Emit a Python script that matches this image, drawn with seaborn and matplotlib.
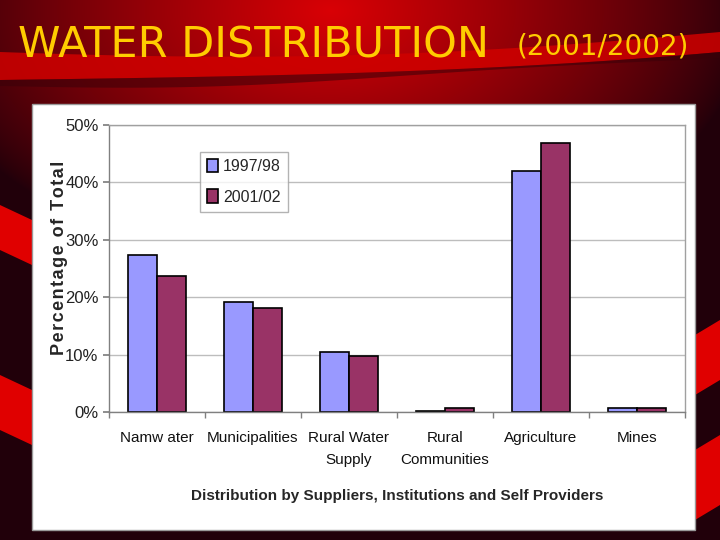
#!/usr/bin/env python3
"""Water distribution slide: share of total by supplier, 1997/98 vs 2001/02."""

import matplotlib

matplotlib.use("Agg")
import matplotlib.pyplot as plt
import numpy as np
import pandas as pd
import seaborn as sns
from matplotlib.patches import Rectangle
from matplotlib.ticker import FixedLocator, PercentFormatter

CATEGORIES = ["Namw ater", "Municipalities", "Rural Water\nSupply", "Rural\nCommunities", "Agriculture", "Mines"]
SHARE_1997 = [27.3, 19.2, 10.5, 0.2, 41.9, 0.7]
SHARE_2001 = [23.7, 18.1, 9.7, 0.7, 46.9, 0.7]
SERIES = ["1997/98", "2001/02"]
Y_TICKS = [0, 10, 20, 30, 40, 50]

PALETTE = {"1997/98": "#9999FF", "2001/02": "#993366"}
CHART_FONT = ["Liberation Sans", "DejaVu Sans"]


def draw_background(fig):
    bg = fig.add_axes([0, 0, 1, 1], zorder=-10)
    h, w = 540, 720
    yy, xx = np.mgrid[0:h, 0:w]
    dist = np.sqrt(((xx - 330) / 420.0) ** 2 + ((yy - 10) / 260.0) ** 2)
    t = np.clip(1.0 - dist, 0, 1) ** 0.8
    dark = np.array([0.13, 0.0, 0.04])
    red = np.array([0.85, 0.0, 0.02])
    img = dark + (red - dark) * t[..., None]
    bg.imshow(img, extent=[0, w, h, 0], aspect="auto")

    x = np.linspace(0, w, 200)
    # swoosh behind the title
    upper = 52 + 8 * np.sin(x / w * np.pi) - 20 * (x / w) ** 2
    lower = 80 - 10 * (x / w) - 18 * (x / w) ** 3
    bg.fill_between(x, upper, lower, color="#D00000", alpha=0.85, linewidth=0)
    dark_band = lower + 6 + 4 * np.sin(x / w * 2 * np.pi)
    bg.fill_between(x, lower, dark_band, color="#3A0008", alpha=0.55, linewidth=0)

    # side swooshes
    for y0, y1 in [(205, 250), (375, 430)]:
        bg.fill([0, 32, 32, 0], [y0, y0 + 15, y1 + 15, y1], color="#E00000", linewidth=0)
    for y0, y1 in [(335, 395), (450, 520)]:
        bg.fill([695, 720, 720, 695], [y0, y0 - 15, y1 - 15, y1], color="#E00000", linewidth=0)

    bg.set_xlim(0, w)
    bg.set_ylim(h, 0)
    bg.axis("off")


def main() -> None:
    sns.set_theme(style="white")
    plt.rcParams["font.family"] = CHART_FONT

    fig = plt.figure(figsize=(7.2, 5.4), dpi=100)
    draw_background(fig)

    fig.patches.append(
        Rectangle((32 / 720, 10 / 540), 663 / 720, 426 / 540, transform=fig.transFigure,
                  facecolor="white", edgecolor="#9A9A9A", linewidth=1, zorder=-5)
    )

    fig.text(18 / 720, 1 - 45 / 540, "WATER DISTRIBUTION", color="#FFCC00", fontsize=31,
             family=["DejaVu Sans"], va="center", ha="left")
    fig.text(517 / 720, 1 - 47 / 540, "(2001/2002)", color="#FFCC00", fontsize=20,
             family=["DejaVu Sans"], va="center", ha="left")

    df = pd.DataFrame({
        "category": CATEGORIES * 2,
        "share": SHARE_1997 + SHARE_2001,
        "series": [SERIES[0]] * len(CATEGORIES) + [SERIES[1]] * len(CATEGORIES),
    })

    ax = fig.add_axes([109 / 720, 1 - 412 / 540, 576 / 720, 287 / 540])
    sns.barplot(data=df, x="category", y="share", hue="series", palette=PALETTE,
                width=0.6, edgecolor="black", linewidth=1.2, saturation=1, ax=ax)

    ax.set_ylim(0, 50)
    ax.set_xlim(-0.5, len(CATEGORIES) - 0.5)
    ax.set_yticks(Y_TICKS)
    ax.yaxis.set_major_formatter(PercentFormatter(decimals=0))
    ax.yaxis.grid(True, color="#BDBDBD", linewidth=1)
    ax.set_axisbelow(True)
    for side in ["left", "right", "top", "bottom"]:
        ax.spines[side].set_visible(True)
        ax.spines[side].set_color("#A0A0A0")
        ax.spines[side].set_linewidth(1)
    ax.spines["left"].set_color("#808080")
    ax.spines["bottom"].set_color("#808080")

    ax.tick_params(axis="y", labelsize=12, length=4, left=True, color="#808080", colors="#222222")
    ax.tick_params(axis="x", which="major", labelsize=11, length=0, pad=14, colors="#111111")
    for lbl in ax.get_xticklabels():
        lbl.set_linespacing(1.7)
    ax.xaxis.set_minor_locator(FixedLocator(np.arange(-0.5, len(CATEGORIES), 1.0)))
    ax.tick_params(axis="x", which="minor", length=4, bottom=True, color="#808080")

    spaced = "\u200a".join("Percentage of Total")
    ax.set_ylabel(spaced, fontsize=13, fontweight="bold", family=["Liberation Sans", "DejaVu Sans"])
    ax.yaxis.set_label_coords(-0.072, 0.537)
    ax.set_xlabel("Distribution by Suppliers, Institutions and Self Providers",
                  fontsize=11, fontweight="bold", labelpad=16)

    leg = ax.legend(loc="upper left", bbox_to_anchor=(0.158, 0.906), borderaxespad=0, title=None,
                    fontsize=11.5, frameon=True, fancybox=False, edgecolor="#A0A0A0", handlelength=0.7,
                    handleheight=0.9, handletextpad=0.3, labelspacing=0.95, borderpad=0.45)
    leg.get_frame().set_linewidth(1)

    fig.savefig("out.png", dpi=100)
    plt.close(fig)


if __name__ == "__main__":
    main()
